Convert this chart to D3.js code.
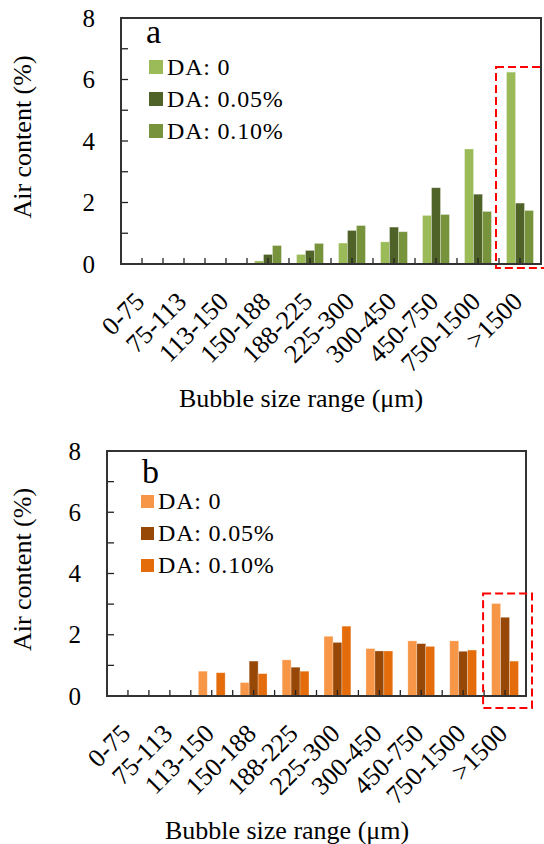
<!DOCTYPE html>
<html>
<head>
<meta charset="utf-8">
<script src="https://cdnjs.cloudflare.com/ajax/libs/d3/7.8.5/d3.min.js"></script>
<style>
body{margin:0;background:#fff}
svg{display:block}
text{font-family:"Liberation Serif","Times New Roman",serif;fill:#000}
</style>
</head>
<body>
<svg></svg>
<script>
// datos
var rangos = ['0-75','75-113','113-150','150-188','188-225','225-300','300-450','450-750','750-1500','>1500'];
var series = ['DA: 0','DA: 0.05%','DA: 0.10%'];
var yTicks = [0,2,4,6,8];

var aireA_0   = [0,0,0,0.10,0.31,0.68,0.72,1.58,3.74,6.24];
var aireA_005 = [0,0,0,0.31,0.44,1.09,1.20,2.48,2.27,1.98];
var aireA_010 = [0,0,0,0.60,0.67,1.25,1.05,1.61,1.71,1.74];

var aireB_0   = [0,0,0.81,0.44,1.18,1.95,1.55,1.80,1.80,3.02];
var aireB_005 = [0,0,0,1.14,0.94,1.75,1.47,1.71,1.46,2.57];
var aireB_010 = [0,0,0.76,0.73,0.81,2.28,1.47,1.62,1.50,1.14];

var w = 544, h = 844,
	svg = d3.select('svg').attr('width', w).attr('height', h);

var paneles = [
	{letra:'a', datos:[aireA_0, aireA_005, aireA_010], colores:['#9bbb59','#4f6228','#77933c'],
	 left:121, right:541, top:18, bottom:264, legX:149, legY:75, cuadro:14, letraX:146, letraY:43,
	 caja:{izq:3, der:-12, arriba:5, abajo:4}},
	{letra:'b', datos:[aireB_0, aireB_005, aireB_010], colores:['#f79646','#974706','#e46c0a'],
	 left:107, right:526, top:451, bottom:696, legX:141, legY:509, cuadro:13, letraX:142, letraY:483,
	 caja:{izq:1, der:6, arriba:10, abajo:12}}
];

function dibujarPanel(p){
	var g = svg.append('g');
	var x = d3.scaleBand().domain(rangos).range([p.left, p.right]).paddingInner(0.36).paddingOuter(0.18);
	var xs = d3.scaleBand().domain(d3.range(series.length)).range([0, x.bandwidth()]);
	var y = d3.scaleLinear().domain([0, 8]).range([p.bottom, p.top]);
	var paso = x.step();

	// barras
	p.datos.forEach(function(serie, s){
		g.selectAll('.barra'+s)
			.data(serie)
			.enter()
			.append('rect')
			.attr('x', function(d, i){ return x(rangos[i]) + xs(s); })
			.attr('y', function(d){ return y(d); })
			.attr('width', xs.bandwidth())
			.attr('height', function(d){ return y(0) - y(d); })
			.attr('fill', p.colores[s])
			.attr('stroke', '#fff')
			.attr('stroke-opacity', 0.35)
			.attr('stroke-width', 0.8);
	});

	// marcas del eje x (bordes y centros de categoria)
	var marcas = [];
	rangos.forEach(function(r, i){
		marcas.push(x(r) + x.bandwidth()/2);
		if (i > 0) marcas.push(x(r) - paso*0.18);
	});
	g.selectAll('.mx').data(marcas).enter().append('line')
		.attr('x1', function(d){ return d; }).attr('x2', function(d){ return d; })
		.attr('y1', p.bottom).attr('y2', p.bottom - 6)
		.attr('stroke', '#222').attr('stroke-width', 1.3);

	// marcas del eje y, hacia dentro, cada 1%
	g.selectAll('.my').data(d3.range(1, 8)).enter().append('line')
		.attr('x1', p.left).attr('x2', p.left + 7)
		.attr('y1', function(d){ return y(d); }).attr('y2', function(d){ return y(d); })
		.attr('stroke', '#222').attr('stroke-width', 1.3);

	// marco
	g.append('rect')
		.attr('x', p.left).attr('y', p.top)
		.attr('width', p.right - p.left).attr('height', p.bottom - p.top)
		.attr('fill', 'none').attr('stroke', '#333').attr('stroke-width', 2);

	// etiquetas eje y
	var ejeY = d3.axisLeft(y).tickValues(yTicks).tickSize(0).tickPadding(26).tickFormat(d3.format('d'));
	var gy = g.append('g').attr('transform', 'translate(' + p.left + ',0)').call(ejeY);
	gy.select('.domain').remove();
	gy.selectAll('text').style('font-size', '25px').style('font-family', '"Liberation Serif","Times New Roman",serif');

	// etiquetas eje x giradas
	g.selectAll('.ex').data(rangos).enter().append('text')
		.attr('text-anchor', 'end')
		.attr('transform', function(d){
			return 'translate(' + (x(d) + x.bandwidth()/2 + 4) + ',' + (p.bottom + 39) + ') rotate(-45)';
		})
		.style('font-size', '26px')
		.text(function(d){ return d; });

	// titulos
	g.append('text')
		.attr('transform', 'translate(31,' + ((p.top + p.bottom)/2 - 4) + ') rotate(-90)')
		.attr('text-anchor', 'middle')
		.style('font-size', '26px')
		.text('Air content (%)');
	g.append('text')
		.attr('x', p.left + 180).attr('y', p.bottom + 143)
		.attr('text-anchor', 'middle')
		.style('font-size', '26px')
		.text('Bubble size range (\u03bcm)');

	// leyenda
	g.append('text').attr('x', p.letraX).attr('y', p.letraY).style('font-size', '34px').text(p.letra);
	series.forEach(function(s, i){
		g.append('rect')
			.attr('x', p.legX).attr('y', p.legY + i*32 - p.cuadro - 1)
			.attr('width', p.cuadro).attr('height', p.cuadro)
			.attr('fill', p.colores[i]);
		g.append('text')
			.attr('x', p.legX + p.cuadro + 4).attr('y', p.legY + i*32)
			.style('font-size', '24px').style('letter-spacing', '0.8px')
			.text(s);
	});

	// recuadro rojo discontinuo sobre >1500
	var ultimo = rangos[rangos.length - 1];
	var maxUlt = d3.max(p.datos, function(s){ return s[s.length - 1]; });
	var cx0 = x(ultimo) - paso*0.18 - p.caja.izq;
	var cx1 = p.right + p.caja.der + (p.letra == 'a' ? 25 : 0);
	g.append('rect')
		.attr('x', cx0).attr('y', y(maxUlt) - p.caja.arriba)
		.attr('width', cx1 - cx0).attr('height', p.bottom + p.caja.abajo - (y(maxUlt) - p.caja.arriba))
		.attr('fill', 'none').attr('stroke', '#ff0000').attr('stroke-width', 2)
		.attr('stroke-dasharray', '8,4');
}

paneles.forEach(dibujarPanel);
</script>
</body>
</html>
